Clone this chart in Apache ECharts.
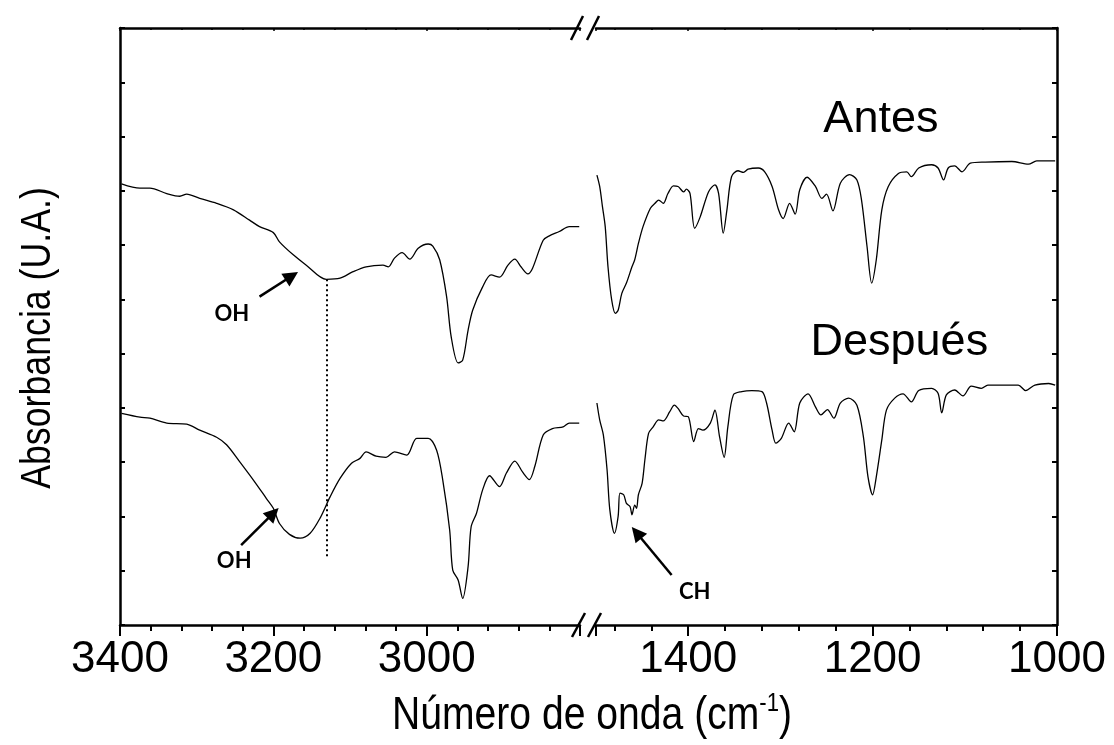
<!DOCTYPE html>
<html><head><meta charset="utf-8">
<script src="https://cdn.jsdelivr.net/npm/echarts@6/dist/echarts.min.js"></script>
<style>html,body{margin:0;padding:0;background:#fff}#c{width:1114px;height:745px}</style>
</head><body><div id="c"></div><script>
// ---- data (wavenumber cm-1, absorbance a.u.) ----
const antesHighWn = [3398,3374,3361,3339,3322,3313,3296,3274,3252,3231,3218,3200,3192,3174,3157,3131,3113,3096,3079,3057,3050,3042,3032,3022,3011,2998,2992,2983,2974,2968,2959,2953,2946,2940,2927,2916,2905,2894,2885,2877,2868,2862,2848,2840,2827,2814,2801];
const antesHighAbs = [81.3,80.5,80.5,79.5,79.0,79.4,78.6,77.7,76.5,74.6,73.4,72.3,70.6,68.2,66.3,63.7,63.9,65.1,66.0,66.3,66.0,67.6,68.6,67.4,69.4,70.2,69.8,67.3,60.5,53.1,48.3,48.8,54.3,58.0,62.3,64.5,64.1,66.3,67.4,66.0,64.7,65.7,70.9,71.7,72.5,73.4,73.4];
const despuesHighWn = [3398,3374,3361,3339,3313,3296,3274,3261,3244,3226,3209,3200,3192,3179,3165,3152,3139,3126,3113,3098,3087,3079,3066,3053,3042,3026,3013,2998,2987,2979,2970,2966,2959,2953,2946,2942,2935,2927,2918,2905,2896,2885,2875,2866,2859,2848,2836,2822,2814,2801];
const despuesHighAbs = [39.0,38.3,38.1,37.2,37.0,35.9,34.6,33.2,30.1,26.7,23.3,21.5,18.7,16.7,16.0,16.9,19.7,23.6,27.0,29.8,30.7,31.9,31.1,30.9,31.9,31.3,34.4,34.4,32.2,26.7,17.5,10.1,8.3,4.9,10.7,18.1,20.6,24.9,27.5,25.5,28.0,30.2,28.2,26.8,29.2,35.0,36.2,36.5,37.2,37.2];
const antesLowWn = [1499,1496,1493,1490,1487,1483,1479,1476,1472,1467,1461,1458,1454,1449,1441,1436,1432,1427,1422,1416,1411,1405,1402,1398,1393,1387,1378,1371,1367,1362,1358,1353,1346,1340,1335,1324,1317,1309,1302,1297,1290,1284,1279,1271,1262,1255,1250,1243,1235,1225,1217,1212,1206,1201,1196,1190,1183,1172,1163,1158,1150,1136,1129,1123,1118,1111,1103,1094,1078,1049,1031,1022,1002];
const antesLowAbs = [82.9,80.8,77.1,73.4,66.0,59.9,57.4,58.0,61.1,63.0,66.0,67.3,70.3,73.4,76.8,77.7,78.3,77.7,79.5,80.9,80.8,79.8,80.3,79.5,73.1,75.2,79.8,81.1,79.5,72.2,76.5,82.6,83.7,83.4,84.0,84.2,83.5,80.8,76.5,74.9,77.7,75.7,80.2,82.5,80.8,78.6,79.4,76.3,81.4,83.0,82.0,78.3,69.7,63.0,67.3,76.5,80.8,83.2,83.5,82.6,84.2,84.8,84.2,82.0,84.2,84.6,83.5,85.1,85.3,85.4,84.9,85.5,85.5];
const despuesLowWn = [1499,1496,1492,1488,1485,1480,1476,1474,1470,1467,1463,1461,1458,1456,1454,1450,1447,1443,1438,1432,1427,1420,1415,1411,1405,1400,1394,1389,1384,1376,1371,1366,1361,1357,1351,1342,1331,1320,1315,1309,1305,1299,1291,1285,1279,1270,1262,1256,1249,1242,1235,1226,1217,1210,1205,1200,1196,1190,1185,1176,1167,1158,1150,1136,1129,1125,1120,1111,1102,1093,1082,1075,1042,1034,1024,1009,1002];
const despuesLowAbs = [40.9,37.8,35.0,28.6,21.2,16.9,20.0,24.3,24.0,22.4,21.8,20.3,22.1,21.5,24.0,26.1,30.4,35.3,36.5,37.8,37.6,39.3,40.5,39.9,38.5,38.4,33.8,36.2,35.9,37.2,39.6,34.7,30.9,36.5,42.4,43.0,43.2,43.0,40.9,35.9,33.5,34.4,37.2,35.6,40.9,42.6,40.2,38.7,39.7,38.1,40.9,41.8,40.5,34.7,27.3,24.0,27.3,34.1,39.6,41.8,42.6,41.1,43.2,43.6,42.7,39.1,42.4,43.3,42.2,44.0,43.6,44.2,44.2,43.2,44.2,44.5,44.2];
const tickLabelsHigh = [3400, 3200, 3000];
const tickLabelsLow = [1400, 1200, 1000];
// annotation anchors (data coordinates)
const ohMarkWn = 3130, ohMarkTop = 63.7, ohMarkBottom = 12.5;
const oh1Text = [3254, 57.3], oh1ArrowFrom = [3218, 60.5], oh1ArrowTo = [3176, 64.3];
const oh2Text = [3251, 11.9], oh2ArrowFrom = [3242, 14.7], oh2ArrowTo = [3200, 20.6];
const chText = [1393, 6.1], chArrowFrom = [1418, 9.2], chArrowTo = [1456, 17.0];
const antesLabel = [1191, 93.2], despuesLabel = [1171, 52.0];

const SANS = '"Liberation Sans",Arial,sans-serif';
const BOLD = 'Lato,"Open Sans",sans-serif';
function zip(a, b) { return a.map((x, i) => [x, b[i]]); }

const chart = echarts.init(document.getElementById('c'), null, {renderer: 'canvas'});
const axLine = {show: true, onZero: false, lineStyle: {color: '#000', width: 2.5}};
function bottomX(grid, min, max, labels) {
  return {gridIndex: grid, type: 'value', min: min, max: max, interval: 200, inverse: true, position: 'bottom',
    axisLine: axLine,
    axisTick: {show: true, length: 11, lineStyle: {color: '#000', width: 2}},
    minorTick: {show: true, splitNumber: 5, length: 6, lineStyle: {color: '#000', width: 2}},
    axisLabel: {formatter: v => labels.includes(v) ? String(v) : '', fontSize: 44, fontFamily: SANS, color: '#000', margin: 13, showMinLabel: true, showMaxLabel: true},
    splitLine: {show: false}, minorSplitLine: {show: false}};
}
function topX(grid, min, max) {
  return {gridIndex: grid, type: 'value', min: min, max: max, interval: 200, inverse: true, position: 'top',
    axisLine: axLine,
    axisTick: {show: true, inside: true, length: 3, lineStyle: {color: '#000', width: 1.5}},
    minorTick: {show: true, splitNumber: 5, length: 2, lineStyle: {color: '#000', width: 1.5}},
    axisLabel: {show: false}, splitLine: {show: false}};
}
function yAx(grid, pos) {
  return {gridIndex: grid, type: 'value', min: 0, max: 110, interval: 10, position: pos,
    axisLine: axLine,
    axisTick: {show: true, inside: true, length: 5, lineStyle: {color: '#000', width: 2}},
    axisLabel: {show: false}, splitLine: {show: false}};
}
const lineStyle = {color: '#000', width: 1.3};
const arrowLine = {color: '#000', width: 2.5, type: 'solid'};
function arrow(from, to) {
  return [{coord: from, symbol: 'none', lineStyle: arrowLine}, {coord: to, symbol: 'triangle', symbolSize: 15}];
}
function textPoint(coord, txt, font, size, weight) {
  return {coord: coord, symbol: 'circle', symbolSize: 1, itemStyle: {color: 'rgba(0,0,0,0)'},
    label: {show: true, position: 'inside', formatter: txt, color: '#000', fontFamily: font, fontSize: size, fontWeight: weight}};
}

const option = {
  animation: false,
  backgroundColor: '#fff',
  grid: [
    {left: 120, top: 28, width: 460, height: 597},
    {left: 596, top: 28, width: 461, height: 597}
  ],
  xAxis: [
    bottomX(0, 2800, 3400, tickLabelsHigh), topX(0, 2800, 3400),
    bottomX(1, 1000, 1500, tickLabelsLow), topX(1, 1000, 1500)
  ],
  yAxis: [yAx(0, 'left'), yAx(1, 'right')],
  series: [
    {type: 'line', name: 'Antes', xAxisIndex: 0, yAxisIndex: 0, data: zip(antesHighWn, antesHighAbs),
      showSymbol: false, smooth: 0.3, lineStyle: lineStyle, silent: true,
      markLine: {silent: true, animation: false, label: {show: false}, symbol: 'none',
        data: [
          [{coord: [ohMarkWn, ohMarkTop], symbol: 'none', lineStyle: {color: '#000', width: 2, type: [2, 3]}}, {coord: [ohMarkWn, ohMarkBottom], symbol: 'none'}],
          arrow(oh1ArrowFrom, oh1ArrowTo)
        ]},
      markPoint: {silent: true, animation: false, data: [textPoint(oh1Text, 'OH', BOLD, 22, 'bold')]}},
    {type: 'line', name: 'Después', xAxisIndex: 0, yAxisIndex: 0, data: zip(despuesHighWn, despuesHighAbs),
      showSymbol: false, smooth: 0.3, lineStyle: lineStyle, silent: true,
      markLine: {silent: true, animation: false, label: {show: false}, symbol: 'none', data: [arrow(oh2ArrowFrom, oh2ArrowTo)]},
      markPoint: {silent: true, animation: false, data: [textPoint(oh2Text, 'OH', BOLD, 22, 'bold')]}},
    {type: 'line', name: 'Antes', xAxisIndex: 2, yAxisIndex: 1, data: zip(antesLowWn, antesLowAbs),
      showSymbol: false, smooth: 0.3, lineStyle: lineStyle, silent: true,
      markPoint: {silent: true, animation: false, data: [textPoint(antesLabel, 'Antes', SANS, 45, 'normal')]}},
    {type: 'line', name: 'Después', xAxisIndex: 2, yAxisIndex: 1, data: zip(despuesLowWn, despuesLowAbs),
      showSymbol: false, smooth: 0.3, lineStyle: lineStyle, silent: true,
      markLine: {silent: true, animation: false, label: {show: false}, symbol: 'none', data: [arrow(chArrowFrom, chArrowTo)]},
      markPoint: {silent: true, animation: false, data: [
        textPoint(despuesLabel, 'Después', SANS, 45, 'normal'),
        textPoint(chText, 'CH', BOLD, 22, 'bold')]}}
  ],
  graphic: [
    // axis titles (condensed lettering)
    {type: 'text', x: 592, y: 716, scaleX: 0.85, silent: true, style: {
      text: '{a|Número de onda (cm}{s|-1}{a|)}', align: 'center', verticalAlign: 'middle',
      rich: {a: {fontSize: 46, fontFamily: SANS, fill: '#000', lineHeight: 50},
             s: {fontSize: 26, fontFamily: SANS, fill: '#000', verticalAlign: 'top', lineHeight: 50}}}},
    {type: 'text', x: 38, y: 338, rotation: Math.PI / 2, scaleX: 0.85, silent: true, style: {
      text: 'Absorbancia (U.A.)', align: 'center', verticalAlign: 'middle',
      font: '42px "Liberation Sans", Arial, sans-serif', fill: '#000'}},
    // axis-break marks
    {type: 'line', silent: true, shape: {x1: 571, y1: 40, x2: 583, y2: 16}, style: {stroke: '#000', lineWidth: 2.5}},
    {type: 'line', silent: true, shape: {x1: 587, y1: 40, x2: 599, y2: 16}, style: {stroke: '#000', lineWidth: 2.5}},
    {type: 'line', silent: true, shape: {x1: 572, y1: 637, x2: 585, y2: 613}, style: {stroke: '#000', lineWidth: 2.5}},
    {type: 'line', silent: true, shape: {x1: 588, y1: 637, x2: 601, y2: 613}, style: {stroke: '#000', lineWidth: 2.5}}
  ]
};
chart.setOption(option);
</script></body></html>
